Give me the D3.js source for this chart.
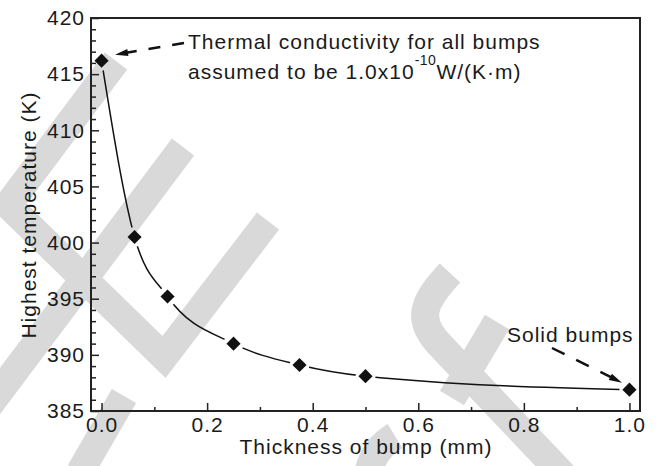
<!DOCTYPE html>
<html>
<head>
<meta charset="utf-8">
<script src="https://cdn.jsdelivr.net/npm/d3@7"></script>
<style>
  body { margin: 0; background: #fff; }
  svg text { font-family: "Liberation Sans", Arial, sans-serif; fill: #1a1a1a; }
</style>
</head>
<body>
<svg id="chart" width="657" height="466"></svg>
<script>
// data
const thickness = [0, 0.0625, 0.125, 0.25, 0.375, 0.5, 1.0];
const highestTemp = [416.2, 400.5, 395.2, 391.0, 389.1, 388.1, 386.9];
const xTicks = [0, 0.2, 0.4, 0.6, 0.8, 1.0];
const xMinorTicks = [0.1, 0.3, 0.5, 0.7, 0.9];
const yTicks = [385, 390, 395, 400, 405, 410, 415, 420];
const yMinorTicks = d3.range(386, 420).filter(v => v % 5 !== 0);

const points = thickness.map((t, i) => ({ t: t, temp: highestTemp[i] }));

const svg = d3.select("#chart");
const plotLeft = 91, plotRight = 640, plotTop = 18, plotBottom = 411;

const x = d3.scaleLinear().domain([-0.02, 1.02]).range([plotLeft, plotRight]);
const y = d3.scaleLinear().domain([385, 420]).range([plotBottom, plotTop]);

svg.append("rect").attr("width", 657).attr("height", 466).attr("fill", "#fff");

// grey watermark in the background (decoration, not data)
const watermark = [
  "M116,61 L8,205 L164,357 L268,221",
  "M183,147 L-30,431",
  "M124,396 L80,472",
  "M450,273 C425,300 414,318 440,345 L566,478",
  "M497,322 L452,398",
  "M395,436 Q372,450 368,475"
];
svg.append("g")
  .selectAll("path")
  .data(watermark)
  .join("path")
  .attr("d", d => d)
  .attr("fill", "none")
  .attr("stroke", "#d9d9d9")
  .attr("stroke-width", 28)
  .attr("stroke-linejoin", "miter");

// mask that cuts the line around each marker
const mask = svg.append("defs").append("mask").attr("id", "gaps");
mask.append("rect").attr("width", 657).attr("height", 466).attr("fill", "#fff");
mask.selectAll("circle")
  .data(points)
  .join("circle")
  .attr("cx", d => x(d.t))
  .attr("cy", d => y(d.temp))
  .attr("r", 10)
  .attr("fill", "#000");

const line = d3.line()
  .x(d => x(d.t))
  .y(d => y(d.temp))
  .curve(d3.curveMonotoneX);

svg.append("path")
  .datum(points)
  .attr("d", line)
  .attr("fill", "none")
  .attr("stroke", "#111")
  .attr("stroke-width", 1.5)
  .attr("mask", "url(#gaps)");

// diamonds
const diamond = d3.symbol().type(d3.symbolSquare).size(100);
svg.append("g")
  .selectAll("path")
  .data(points)
  .join("path")
  .attr("d", diamond)
  .attr("transform", d => `translate(${x(d.t)},${y(d.temp)}) rotate(45)`)
  .attr("fill", "#111");

// axes, ticks pointing inside
const fontSize = "21px";
svg.append("g")
  .attr("transform", `translate(0,${plotBottom})`)
  .call(d3.axisBottom(x).tickValues(xTicks).tickFormat(d3.format(".1f")).tickSize(-8).tickPadding(6));
svg.append("g")
  .attr("transform", `translate(0,${plotBottom})`)
  .call(d3.axisBottom(x).tickValues(xMinorTicks).tickFormat("").tickSize(-4));
svg.append("g")
  .attr("transform", `translate(${plotLeft},0)`)
  .call(d3.axisLeft(y).tickValues(yTicks).tickFormat(d3.format("d")).tickSize(-8).tickPadding(6));
svg.append("g")
  .attr("transform", `translate(${plotLeft},0)`)
  .call(d3.axisLeft(y).tickValues(yMinorTicks).tickFormat("").tickSize(-5));

svg.selectAll(".domain").remove();
svg.selectAll(".tick line").attr("stroke", "#222").attr("stroke-width", 1.5);
svg.selectAll(".tick text")
  .style("font-family", '"Liberation Sans", Arial, sans-serif')
  .style("font-size", fontSize)
  .style("letter-spacing", "1px")
  .attr("fill", "#1a1a1a");

// frame
svg.append("rect")
  .attr("x", plotLeft).attr("y", plotTop)
  .attr("width", plotRight - plotLeft).attr("height", plotBottom - plotTop)
  .attr("fill", "none")
  .attr("stroke", "#222")
  .attr("stroke-width", 2);

// axis titles
svg.append("text")
  .attr("x", 366).attr("y", 454)
  .attr("text-anchor", "middle")
  .style("font-size", fontSize).style("letter-spacing", "1px")
  .text("Thickness of bump (mm)");

svg.append("text")
  .attr("transform", "translate(36,215) rotate(-90)")
  .attr("text-anchor", "middle")
  .style("font-size", fontSize).style("letter-spacing", "1px")
  .text("Highest temperature (K)");

// annotations
function arrow(x0, y0, x1, y1, dash) {
  const len = Math.hypot(x1 - x0, y1 - y0);
  const ux = (x1 - x0) / len, uy = (y1 - y0) / len;
  const head = 13, half = 3.5;
  svg.append("line")
    .attr("x1", x0).attr("y1", y0)
    .attr("x2", x1 - ux * head * 0.6).attr("y2", y1 - uy * head * 0.6)
    .attr("stroke", "#111").attr("stroke-width", 2.5)
    .attr("stroke-dasharray", dash);
  const bx = x1 - ux * head, by = y1 - uy * head;
  svg.append("path")
    .attr("d", `M${x1},${y1} L${bx - uy * half},${by + ux * half} L${bx + uy * half},${by - ux * half} Z`)
    .attr("fill", "#111");
}

const p0 = points[0], pLast = points[points.length - 1];
arrow(184, 43, x(p0.t) + 13.5, y(p0.temp) - 6, "12,12");
arrow(552, 348, x(pLast.t) - 7.5, y(pLast.temp) - 7, "14,13");

svg.append("text")
  .attr("x", 188).attr("y", 49)
  .style("font-size", fontSize).style("letter-spacing", "1px")
  .text("Thermal conductivity for all bumps");

const t2 = svg.append("text")
  .attr("x", 188).attr("y", 79)
  .style("font-size", fontSize).style("letter-spacing", "1px");
t2.append("tspan").text("assumed to be 1.0x10");
t2.append("tspan").attr("dy", -14).style("font-size", "14px").style("letter-spacing", "0.5px").text("-10");
t2.append("tspan").attr("dy", 14).text("W/(K\u00b7m)");

svg.append("text")
  .attr("x", 507).attr("y", 342)
  .style("font-size", fontSize).style("letter-spacing", "1px")
  .text("Solid bumps");
</script>
</body>
</html>
